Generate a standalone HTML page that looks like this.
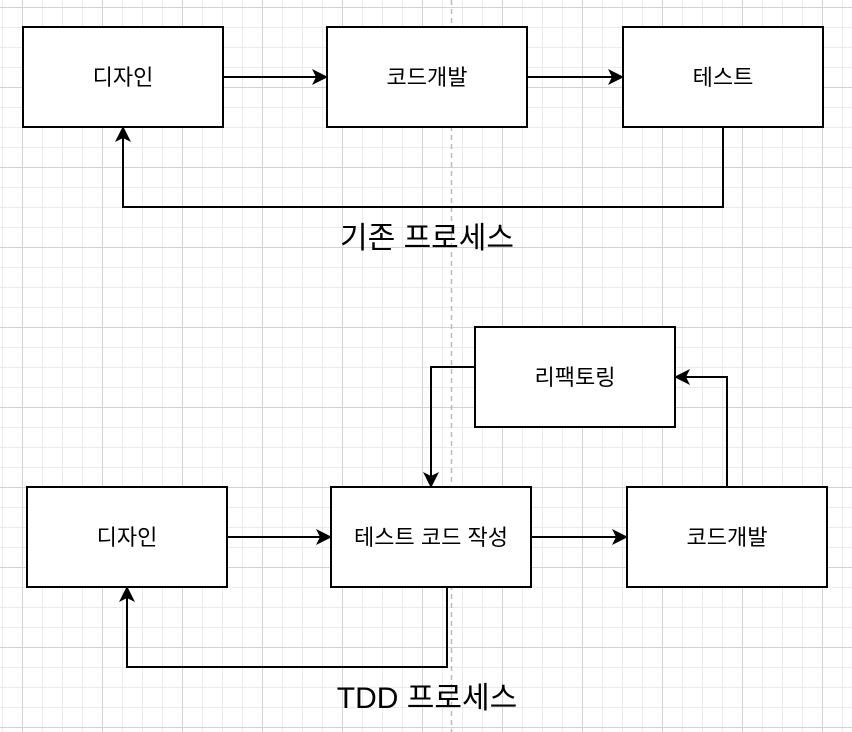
<!DOCTYPE html>
<html><head><meta charset="utf-8"><style>
html,body{margin:0;padding:0;background:#fff;}
svg{display:block;}
text{font-family:"Liberation Sans","Noto Sans CJK KR",sans-serif;fill:#000;}
</style></head><body>
<svg width="852" height="732" viewBox="0 0 852 732" xmlns="http://www.w3.org/2000/svg">
<defs>
<pattern id="minor" width="20" height="20" patternUnits="userSpaceOnUse" x="2" y="7">
<path d="M0 0.5H20M0.5 0V20" stroke="#ebebeb" stroke-width="1" fill="none"/>
</pattern>
<pattern id="major" width="80" height="80" patternUnits="userSpaceOnUse" x="22" y="7">
<path d="M0 0.5H80M0.5 0V80" stroke="#d2d2d2" stroke-width="1" fill="none"/>
</pattern>
<marker id="a" markerWidth="16" markerHeight="16" refX="13" refY="8" orient="auto" markerUnits="userSpaceOnUse">
<path d="M0 0L16 8L0 16L4 8Z" fill="#000"/>
</marker>
</defs>
<rect width="852" height="732" fill="url(#minor)"/>
<rect width="852" height="732" fill="url(#major)"/>
<line x1="451.5" y1="0" x2="451.5" y2="732" stroke="#bbb" stroke-width="1.5" stroke-dasharray="5,4"/>
<g fill="#fff" stroke="#000" stroke-width="2">
<rect x="23" y="27" width="200" height="100"/>
<rect x="327" y="27" width="200" height="100"/>
<rect x="623" y="27" width="200" height="100"/>
<rect x="475" y="327" width="200" height="100"/>
<rect x="27" y="487" width="200" height="100"/>
<rect x="331" y="487" width="200" height="100"/>
<rect x="627" y="487" width="200" height="100"/>
</g>
<g fill="none" stroke="#000" stroke-width="2">
<path d="M223 77H325" marker-end="url(#a)"/>
<path d="M527 77H621" marker-end="url(#a)"/>
<path d="M723 127V207H123V129" marker-end="url(#a)"/>
<path d="M227 537H329" marker-end="url(#a)"/>
<path d="M531 537H625" marker-end="url(#a)"/>
<path d="M447 587V667H127V589" marker-end="url(#a)"/>
<path d="M727 487V377H677" marker-end="url(#a)"/>
<path d="M475 367H431V485" marker-end="url(#a)"/>
</g>
<g font-size="22" text-anchor="middle">
<text x="123" y="85">디자인</text>
<text x="427" y="85">코드개발</text>
<text x="723" y="85">테스트</text>
<text x="575" y="385">리팩토링</text>
<text x="127" y="545">디자인</text>
<text x="431" y="545">테스트 코드 작성</text>
<text x="727" y="545">코드개발</text>
</g>
<g font-size="30" text-anchor="middle">
<text x="427" y="248">기존 프로세스</text>
<text x="427" y="708">TDD 프로세스</text>
</g>
</svg>
</body></html>
